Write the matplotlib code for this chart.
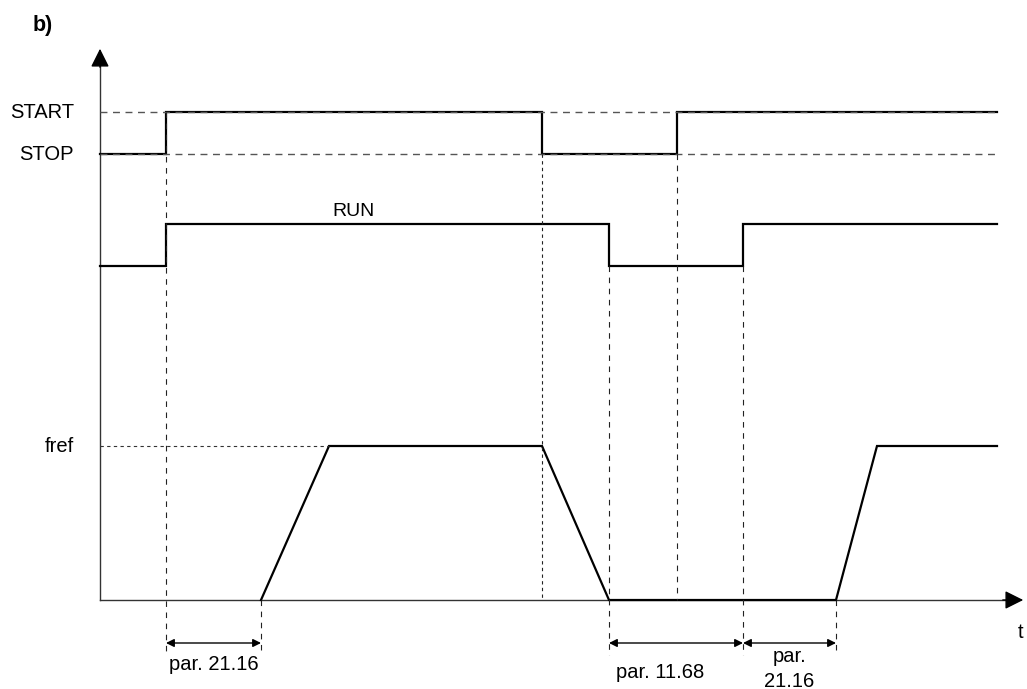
import matplotlib.pyplot as plt

plt.rcParams['font.family'] = ['Liberation Sans', 'DejaVu Sans']

# time axis (t=0 at the y axis), levels in the same units above the t axis
start_t = [-0.1, 66, 66, 442, 442, 577, 577, 897]
start_v = ['STOP', 'STOP', 'START', 'START', 'STOP', 'STOP', 'START', 'START']
run_t = [0, 66, 66, 509, 509, 643, 643, 897]
run_v = [0, 0, 1, 1, 0, 0, 1, 1]
fref_t = [161, 229, 442, 509, 736, 777, 897]
fref_v = [0, 1, 1, 0, 0, 1, 1]

levels = {'START': 488, 'STOP': 446}
run_lo, run_hi = 334, 376
fref_hi = 154

spans = [(66, 161, 'par. 21.16'), (509, 643, 'par. 11.68'), (643, 736, 'par.\n21.16')]

fig = plt.figure(figsize=(10.27, 6.89), dpi=100)
ax = fig.add_axes([0, 0, 1, 1])
ax.set_xlim(-100, 927)
ax.set_ylim(-89, 600)
ax.axis('off')

FS = 14.5

# axes with arrows
ax.plot([0, 0], [0, 545], color='#333333', lw=1.0)
ax.plot([0, 910], [0, 0], color='#333333', lw=1.0)
ax.annotate('', xy=(0, 554), xytext=(0, 530),
            arrowprops=dict(arrowstyle='-|>', color='black', lw=1.0, mutation_scale=28))
ax.annotate('', xy=(926, 0), xytext=(900, 0),
            arrowprops=dict(arrowstyle='-|>', color='black', lw=1.0, mutation_scale=28))
ax.text(921, -32, 't', ha='center', va='center', fontsize=FS)
ax.text(-57, 575, 'b)', ha='center', va='center', fontsize=15.5, fontweight='bold')

sig = dict(color='black', lw=1.6, solid_joinstyle='miter')
ax.plot(start_t, [levels[v] for v in start_v], **sig)
ax.plot(run_t, [run_lo + v * (run_hi - run_lo) for v in run_v], **sig)
ax.plot(fref_t, [v * fref_hi for v in fref_v], **sig)

# reference levels
for name, y in levels.items():
    ax.plot([0, 897], [y, y], color='#555555', lw=1.0, dashes=(5, 4))
    ax.text(-26, y, name, ha='right', va='center', fontsize=FS)
ax.plot([0, 229], [fref_hi, fref_hi], color='#333333', lw=0.8, dashes=(3, 3))
ax.text(-26, fref_hi, 'fref', ha='right', va='center', fontsize=FS)
ax.text(253, run_hi + 4, 'RUN', ha='center', va='bottom', fontsize=FS - 0.5)

# vertical guides
guides = [(66, 488, -55, (5, 5)), (161, 0, -55, (5, 5)), (442, 446, 0, (3, 3)),
          (509, 334, -55, (5, 5)), (577, 446, 0, (5, 5)), (643, 334, -55, (5, 5)),
          (736, 0, -55, (5, 5))]
for x, y0, y1, d in guides:
    ax.plot([x, x], [y0, y1], color='#222222', lw=0.8, dashes=d)

# interval arrows
for a, b, label in spans:
    ax.annotate('', xy=(a, -43), xytext=(b, -43),
                arrowprops=dict(arrowstyle='<|-|>', color='black', lw=1.0,
                                mutation_scale=12, shrinkA=0, shrinkB=0))
    if '\n' in label:
        ax.text((a + b) / 2, -69, label, ha='center', va='center', fontsize=FS, linespacing=1.35)
    elif a < 100:
        ax.text((a + b) / 2, -65, label, ha='center', va='center', fontsize=FS)
    else:
        ax.text((a + b) / 2 - 16, -72, label, ha='center', va='center', fontsize=FS)

fig.savefig('out.png', dpi=100)
